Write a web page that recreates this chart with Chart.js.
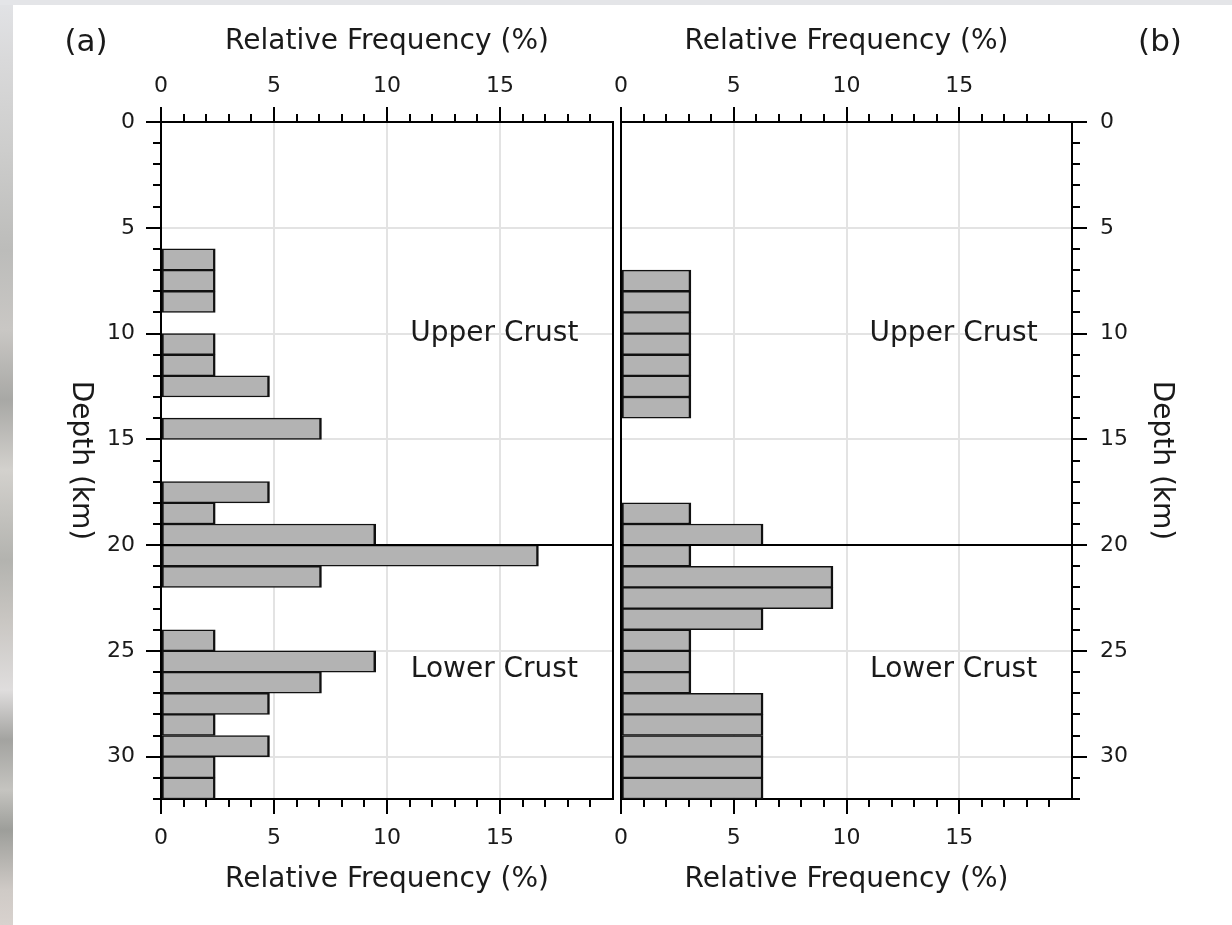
<!DOCTYPE html>
<html>
<head>
<meta charset="utf-8">
<script src="https://cdn.jsdelivr.net/npm/chart.js@4.4.0/dist/chart.umd.min.js"></script>
<style>
  html, body { margin: 0; padding: 0; background: #fff; }
  #wrap { position: relative; width: 1232px; height: 925px; overflow: hidden; background: #fff; }
  #edge {
    position: absolute; left: 0; top: 0; width: 13px; height: 925px;
    background: linear-gradient(to bottom, #e2e3e6 0px, #d9d9da 60px, #cdcdcc 150px, #bcbcba 250px,
      #c9c7c4 330px, #a8a8a5 400px, #d3d1cd 470px, #b3b3af 560px, #c9c6c2 620px, #dfdddd 690px,
      #a3a3a0 740px, #c5c4c0 790px, #9d9e9a 830px, #cfcac6 890px, #d8d2ce 925px);
  }
  #topband { position: absolute; left: 0; top: 0; width: 1232px; height: 5px; background: #e4e5e8; }
  canvas { position: absolute; left: 0; top: 0; }
</style>
</head>
<body>
<div id="wrap">
  <div id="edge"></div>
  <div id="topband"></div>
  <canvas id="panelA" width="1232" height="925"></canvas>
  <canvas id="panelB" width="1232" height="925"></canvas>
</div>
<script>
// Earthquake depth histograms: top of each 1-km depth bin (km) and relative frequency (%)
const depthBinsA = [6, 7, 8, 10, 11, 12, 14, 17, 18, 19, 20, 21, 24, 25, 26, 27, 28, 29, 30, 31];
const freqA      = [2.4, 2.4, 2.4, 2.4, 2.4, 4.8, 7.1, 4.8, 2.4, 9.5, 16.7, 7.1, 2.4, 9.5, 7.1, 4.8, 2.4, 4.8, 2.4, 2.4];

const depthBinsB = [7, 8, 9, 10, 11, 12, 13, 18, 19, 20, 21, 22, 23, 24, 25, 26, 27, 28, 29, 30, 31];
const freqB      = [3.1, 3.1, 3.1, 3.1, 3.1, 3.1, 3.1, 3.1, 6.3, 3.1, 9.4, 9.4, 6.3, 3.1, 3.1, 3.1, 6.3, 6.3, 6.3, 6.3, 6.3];

// Axis ranges and labelled ticks
const depthRange = [0, 32];
const freqRange = [0, 20];
const depthTickLabels = [0, 5, 10, 15, 20, 25, 30];
const freqTickLabels = [0, 5, 10, 15];

// Upper / lower crust boundary (km)
const crustBoundary = 20;
const regionLabels = [
  { text: 'Upper Crust', freq: 14.75, depth: 10 },
  { text: 'Lower Crust', freq: 14.75, depth: 25.9 }
];

const FONT = '"DejaVu Sans", "Liberation Sans", Arial, sans-serif';
const INK = '#1a1a1a';
const GRID = '#e3e3e3';
const CLEAR = 'rgba(0,0,0,0)';
const MAJOR_TICK = 15;
const MINOR_TICK = 8;
const TICK_FONT = 22;
const TITLE_FONT = 28;

function isMajor(v) { return Math.abs(v % 5) < 1e-9; }

function fixedSize(prop, size) {
  return function (scale) { scale[prop] = size; };
}

function freqAxis(position, height, showGrid, pad) {
  return {
    type: 'linear',
    position: position,
    min: freqRange[0],
    max: freqRange[1],
    offset: false,
    afterFit: fixedSize('height', height),
    ticks: {
      stepSize: 1,
      autoSkip: false,
      maxRotation: 0,
      padding: pad,
      color: INK,
      font: { family: FONT, size: TICK_FONT },
      callback: v => freqTickLabels.includes(v) ? String(v) : ''
    },
    grid: {
      offset: false,
      drawOnChartArea: showGrid,
      color: c => (c.tick && isMajor(c.tick.value) && c.tick.value > freqRange[0] && c.tick.value < freqRange[1]) ? GRID : CLEAR,
      lineWidth: 2,
      tickLength: MAJOR_TICK,
      tickWidth: 2,
      tickColor: c => (c.tick && isMajor(c.tick.value) && c.tick.value < freqRange[1]) ? '#000' : CLEAR
    },
    border: { display: true, color: '#000', width: 2 }
  };
}

function depthAxis(position, width, pad) {
  return {
    type: 'linear',
    position: position,
    min: depthRange[0],
    max: depthRange[1],
    reverse: true,
    offset: false,
    afterFit: fixedSize('width', width),
    ticks: {
      stepSize: 1,
      autoSkip: false,
      padding: pad,
      color: INK,
      font: { family: FONT, size: TICK_FONT },
      callback: v => depthTickLabels.includes(v) ? String(v) : ''
    },
    grid: {
      offset: false,
      color: c => (c.tick && isMajor(c.tick.value) && c.tick.value > depthRange[0] && c.tick.value < depthRange[1]) ? GRID : CLEAR,
      lineWidth: 2,
      tickLength: MAJOR_TICK,
      tickWidth: 2,
      tickColor: c => (c.tick && isMajor(c.tick.value)) ? '#000' : CLEAR
    },
    border: { display: true, color: '#000', width: 2 }
  };
}

function edgeAxis(position) {
  return {
    type: 'linear',
    position: position,
    min: depthRange[0],
    max: depthRange[1],
    reverse: true,
    offset: false,
    afterFit: fixedSize('width', 0),
    ticks: { display: false },
    grid: { offset: false, drawOnChartArea: false, drawTicks: false },
    border: { display: true, color: '#000', width: 2 }
  };
}

function drawText(ctx, text, x, y, size, rotation) {
  ctx.save();
  ctx.translate(x, y);
  if (rotation) ctx.rotate(rotation);
  ctx.font = size + 'px ' + FONT;
  ctx.fillStyle = INK;
  ctx.textAlign = 'center';
  ctx.textBaseline = 'middle';
  ctx.fillText(text, 0, 0);
  ctx.restore();
}

// Minor ticks, crust boundary, region names and axis titles
const decorations = {
  id: 'decorations',
  afterDraw(chart, args, opts) {
    const ctx = chart.ctx;
    const area = chart.chartArea;
    const x = chart.scales.x;
    const y = chart.scales.y;
    const xTop = chart.scales.xTop;

    ctx.save();
    ctx.strokeStyle = '#000';
    ctx.lineWidth = 2;

    // minor ticks on the frequency axes
    for (let v = freqRange[0]; v < freqRange[1]; v++) {
      if (isMajor(v)) continue;
      const px = Math.round(x.getPixelForValue(v));
      ctx.beginPath();
      ctx.moveTo(px, xTop.bottom);
      ctx.lineTo(px, xTop.bottom - MINOR_TICK);
      ctx.moveTo(px, x.top);
      ctx.lineTo(px, x.top + MINOR_TICK);
      ctx.stroke();
    }
    // minor ticks on the depth axis
    for (let v = depthRange[0]; v <= depthRange[1]; v++) {
      if (isMajor(v)) continue;
      const py = Math.round(y.getPixelForValue(v));
      ctx.beginPath();
      if (opts.side === 'left') {
        ctx.moveTo(y.right, py);
        ctx.lineTo(y.right - MINOR_TICK, py);
      } else {
        ctx.moveTo(y.left, py);
        ctx.lineTo(y.left + MINOR_TICK, py);
      }
      ctx.stroke();
    }

    // crust boundary
    const by = Math.round(y.getPixelForValue(crustBoundary));
    ctx.beginPath();
    ctx.moveTo(area.left, by);
    ctx.lineTo(area.right, by);
    ctx.stroke();
    ctx.restore();

    // region names
    regionLabels.forEach(r => {
      drawText(ctx, r.text, x.getPixelForValue(r.freq), y.getPixelForValue(r.depth), TITLE_FONT, 0);
    });

    // axis titles
    const cx = (area.left + area.right) / 2;
    const cy = (area.top + area.bottom) / 2;
    drawText(ctx, 'Relative Frequency (%)', cx, 42, TITLE_FONT, 0);
    drawText(ctx, 'Relative Frequency (%)', cx, 880, TITLE_FONT, 0);
    drawText(ctx, 'Depth (km)', opts.side === 'left' ? 80 : 1161, cy, TITLE_FONT, Math.PI / 2);
    drawText(ctx, opts.letter, opts.side === 'left' ? 86 : 1160, 43, 31, 0);
  }
};

function makePanel(id, bins, freqs, side, letter) {
  const data = bins.map((d, i) => ({ y: d + 0.5, x: freqs[i] }));
  const left = side === 'left';
  const scales = {
    x: freqAxis('bottom', 925 - 799, true, 11),
    xTop: freqAxis('top', 122, false, 8),
    y: depthAxis(left ? 'left' : 'right', left ? 161 : 1232 - 1072, left ? 11 : 13),
    yEdge: edgeAxis(left ? 'right' : 'left')
  };
  return new Chart(document.getElementById(id), {
    type: 'bar',
    data: {
      datasets: [{
        data: data,
        xAxisID: 'x',
        yAxisID: 'y',
        backgroundColor: '#b3b3b3',
        borderColor: '#111',
        borderWidth: { top: 1.5, bottom: 1.5, left: 2, right: 2.5 },
        borderSkipped: false,
        barPercentage: 1,
        categoryPercentage: 1
      }]
    },
    options: {
      indexAxis: 'y',
      responsive: false,
      animation: false,
      devicePixelRatio: 1,
      layout: {
        padding: left ? { left: 0, right: 1232 - 613, top: 0, bottom: 0 }
                      : { left: 621, right: 0, top: 0, bottom: 0 }
      },
      scales: scales,
      plugins: {
        legend: { display: false },
        tooltip: { enabled: false },
        decorations: { side: side, letter: letter }
      }
    },
    plugins: [decorations]
  });
}

makePanel('panelA', depthBinsA, freqA, 'left', '(a)');
makePanel('panelB', depthBinsB, freqB, 'right', '(b)');
</script>
</body>
</html>
